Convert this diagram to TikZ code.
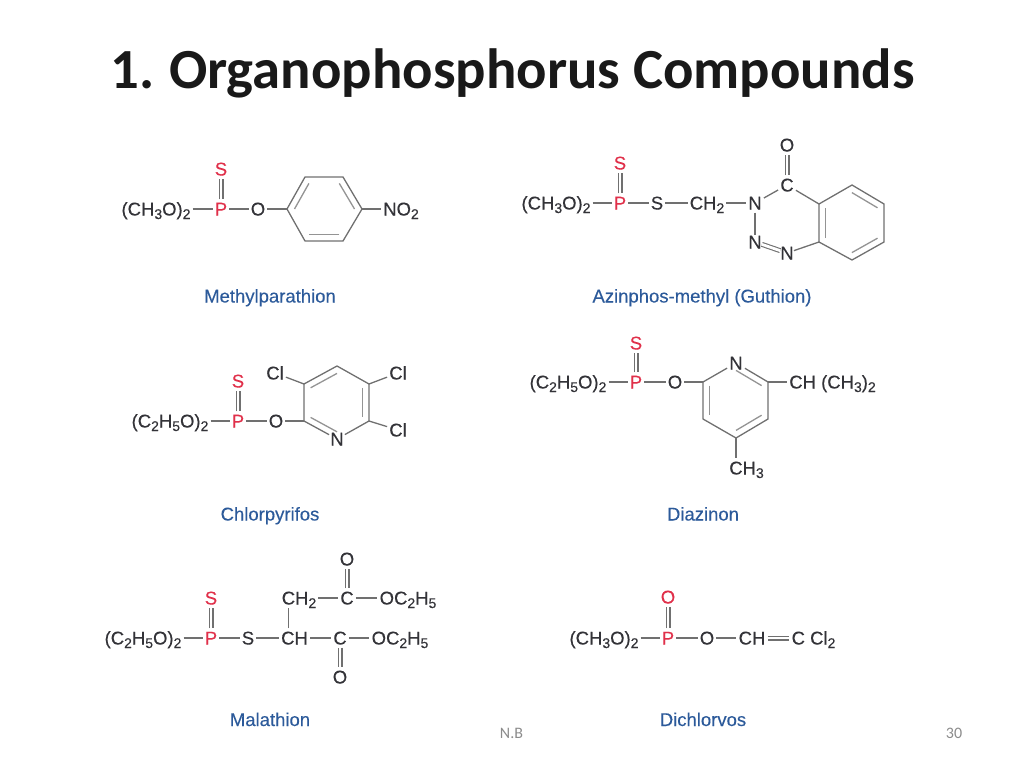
\documentclass[tikz,border=0pt]{standalone}
\usepackage{fontspec}
\setmainfont{Liberation Sans}[RawFeature={embolden=0.25}]
\newfontfamily\titlefont{Carlito}
\usetikzlibrary{calc}
\definecolor{inkgrey}{HTML}{333338}
\definecolor{bondgrey}{HTML}{707070}
\definecolor{atomred}{HTML}{E0304A}
\definecolor{nameblue}{HTML}{2C5A9A}
\definecolor{footgrey}{HTML}{8B8B8B}
\newcommand{\lowidx}[1]{\raisebox{-3.5pt}{\fontsize{14}{14}\selectfont #1}}
\tikzset{
	atom/.style={text=inkgrey,font=\fontsize{18.5}{20}\selectfont,inner xsep=2pt,inner ysep=3pt,text height=13pt,text depth=0pt},
	redatom/.style={atom,text=atomred},
	compound/.style={text=nameblue,font=\fontsize{18.5}{20}\selectfont,inner sep=0pt,text height=13pt,text depth=4pt},
	foot/.style={text=footgrey,font=\titlefont\fontsize{16}{18}\selectfont,inner sep=0pt},
	bond/.style={draw=bondgrey,line width=1.3pt},
	dblbond/.style={draw=bondgrey,line width=1.1pt,double=white,double distance=2.8pt},
	inring/.style={draw=bondgrey!75,line width=1.3pt}
}
\begin{document}
\begin{tikzpicture}[x=1pt,y=-1pt]
	\useasboundingbox (0,0) rectangle (1024,768);
	\node[inner sep=0pt,font=\titlefont\bfseries\fontsize{56.7}{60}\selectfont,text=black!90] (heading) at (512.5,73) {1.\kern-2.5pt{} Organophosphorus Compounds};

	% methylparathion
	\node[atom] (mpA) at (156,209) {(CH\lowidx{3}O)\lowidx{2}};
	\node[redatom] (mpP) at (221,209) {P};
	\node[redatom] (mpS) at (221,169) {S};
	\node[atom] (mpO) at (258,209) {O};
	\node[atom] (mpN) at (401,209) {NO\lowidx{2}};
	\node[compound] (mpName) at (270,298) {Methylparathion};
	\coordinate (mp1) at (287,209);
	\coordinate (mp2) at (305,177);
	\coordinate (mp3) at (343,177);
	\coordinate (mp4) at (362,209);
	\coordinate (mp5) at (343,241);
	\coordinate (mp6) at (305,241);
	\coordinate (mpC) at (324.5,209);
	\draw[bond] (mpA) -- (mpP);
	\draw[dblbond] (mpP) -- (mpS);
	\draw[bond] (mpP) -- (mpO);
	\draw[bond] (mpO) -- (mp1);
	\draw[bond] (mp4) -- (mpN);
	\draw[bond] (mp1) -- (mp2) -- (mp3) -- (mp4) -- (mp5) -- (mp6) -- cycle;
	\draw[inring] ($(mp1)!.2!(mpC)$) -- ($(mp2)!.2!(mpC)$);
	\draw[inring] ($(mp3)!.2!(mpC)$) -- ($(mp4)!.2!(mpC)$);
	\draw[inring] ($(mp5)!.2!(mpC)$) -- ($(mp6)!.2!(mpC)$);

	% azinphos-methyl
	\node[atom] (azA) at (556,203) {(CH\lowidx{3}O)\lowidx{2}};
	\node[redatom] (azP) at (620,203) {P};
	\node[redatom] (azS) at (620,163) {S};
	\node[atom] (azT) at (657,203) {S};
	\node[atom] (azM) at (707,203) {CH\lowidx{2}};
	\node[atom] (azN) at (755,203) {N};
	\node[atom] (azC) at (787,185) {C};
	\node[atom] (azO) at (787,145) {O};
	\node[atom,inner sep=0pt] (azNa) at (755,242) {N};
	\node[atom,inner sep=0pt] (azNb) at (787,253) {N};
	\node[compound] (azName) at (702,298) {Azinphos-methyl (Guthion)};
	\coordinate (az1) at (819,204);
	\coordinate (az2) at (852,185);
	\coordinate (az3) at (884,204);
	\coordinate (az4) at (884,242);
	\coordinate (az5) at (852,260);
	\coordinate (az6) at (819,242);
	\coordinate (azK) at (851.5,223);
	\draw[bond] (azA) -- (azP);
	\draw[dblbond] (azP) -- (azS);
	\draw[bond] (azP) -- (azT);
	\draw[bond] (azT) -- (azM);
	\draw[bond] (azM) -- (azN);
	\draw[bond] (azN) -- (azC);
	\draw[dblbond] (azC) -- (azO);
	\draw[bond] (azN) -- (azNa);
	\draw[dblbond] (azNa) -- (azNb);
	\draw[bond] (azNb) -- (az6);
	\draw[bond] (azC) -- (az1);
	\draw[bond] (az1) -- (az2) -- (az3) -- (az4) -- (az5) -- (az6) -- cycle;
	\draw[inring] ($(az2)!.2!(azK)$) -- ($(az3)!.2!(azK)$);
	\draw[inring] ($(az4)!.2!(azK)$) -- ($(az5)!.2!(azK)$);
	\draw[inring] ($(az6)!.2!(azK)$) -- ($(az1)!.2!(azK)$);

	% chlorpyrifos
	\node[atom] (clA) at (170,421) {(C\lowidx{2}H\lowidx{5}O)\lowidx{2}};
	\node[redatom] (clP) at (238,421) {P};
	\node[redatom] (clS) at (238,381) {S};
	\node[atom] (clO) at (276,421) {O};
	\node[atom,inner sep=1pt] (clN) at (337,439) {N};
	\node[atom] (clCa) at (275,373) {Cl};
	\node[atom] (clCb) at (398,373) {Cl};
	\node[atom] (clCc) at (398,430) {Cl};
	\node[compound] (clName) at (270,516) {Chlorpyrifos};
	\coordinate (cl1) at (304,421);
	\coordinate (cl2) at (304,384);
	\coordinate (cl3) at (337,366);
	\coordinate (cl4) at (369,384);
	\coordinate (cl5) at (369,421);
	\coordinate (clK) at (337,403);
	\draw[bond] (clA) -- (clP);
	\draw[dblbond] (clP) -- (clS);
	\draw[bond] (clP) -- (clO);
	\draw[bond] (clO) -- (cl1);
	\draw[bond] (clN) -- (cl1) -- (cl2) -- (cl3) -- (cl4) -- (cl5) -- (clN);
	\draw[bond] (cl2) -- (clCa);
	\draw[bond] (cl4) -- (clCb);
	\draw[bond] (cl5) -- (clCc);
	\draw[inring] ($(cl2)!.2!(clK)$) -- ($(cl3)!.2!(clK)$);
	\draw[inring] ($(cl4)!.2!(clK)$) -- ($(cl5)!.2!(clK)$);
	\draw[inring] ($(cl1)!.2!(clK)$) -- ($(clN)!.2!(clK)$);

	% diazinon
	\node[atom] (dzA) at (568,382) {(C\lowidx{2}H\lowidx{5}O)\lowidx{2}};
	\node[redatom] (dzP) at (636,382) {P};
	\node[redatom] (dzS) at (636,343) {S};
	\node[atom] (dzO) at (675,382) {O};
	\node[atom,inner sep=2pt] (dzN) at (736,363) {N};
	\node[atom] (dzI) at (832.5,382) {CH (CH\lowidx{3})\lowidx{2}};
	\node[atom] (dzM) at (746.5,468) {CH\lowidx{3}};
	\node[compound] (dzName) at (703,516) {Diazinon};
	\coordinate (dz1) at (703,382);
	\coordinate (dz2) at (703,419);
	\coordinate (dz3) at (736,438);
	\coordinate (dz4) at (768,419);
	\coordinate (dz5) at (768,382);
	\coordinate (dzK) at (736,400);
	\draw[bond] (dzA) -- (dzP);
	\draw[dblbond] (dzP) -- (dzS);
	\draw[bond] (dzP) -- (dzO);
	\draw[bond] (dzO) -- (dz1);
	\draw[bond] (dzN) -- (dz1) -- (dz2) -- (dz3) -- (dz4) -- (dz5) -- (dzN);
	\draw[bond] (dz5) -- (dzI);
	\draw[bond] (dz3) -- (dz3 |- dzM.north);
	\draw[inring] ($(dz1)!.2!(dzK)$) -- ($(dz2)!.2!(dzK)$);
	\draw[inring] ($(dz3)!.2!(dzK)$) -- ($(dz4)!.2!(dzK)$);
	\draw[inring] ($(dz5)!.2!(dzK)$) -- ($(dzN)!.2!(dzK)$);

	% malathion
	\node[atom] (mlA) at (143,638) {(C\lowidx{2}H\lowidx{5}O)\lowidx{2}};
	\node[redatom] (mlP) at (211,638) {P};
	\node[redatom] (mlS) at (211,598) {S};
	\node[atom] (mlT) at (248,638) {S};
	\node[atom] (mlH) at (294.5,638) {CH};
	\node[atom] (mlD) at (299,598) {CH\lowidx{2}};
	\node[atom] (mlU) at (347,598) {C};
	\node[atom] (mlV) at (347,559) {O};
	\node[atom] (mlE) at (408,598) {OC\lowidx{2}H\lowidx{5}};
	\node[atom] (mlL) at (340,638) {C};
	\node[atom] (mlW) at (340,677) {O};
	\node[atom] (mlF) at (400,638) {OC\lowidx{2}H\lowidx{5}};
	\node[compound] (mlName) at (270,721.5) {Malathion};
	\draw[bond] (mlA) -- (mlP);
	\draw[dblbond] (mlP) -- (mlS);
	\draw[bond] (mlP) -- (mlT);
	\draw[bond] (mlT) -- (mlH);
	\draw[bond] (mlH) -- (mlL);
	\draw[bond] (mlL) -- (mlF);
	\draw[dblbond] (mlL) -- (mlW);
	\draw[bond] ([xshift=-6pt]mlH.north) -- ([xshift=-6pt]mlH.north |- mlD.south);
	\draw[bond] (mlD) -- (mlU);
	\draw[bond] (mlU) -- (mlE);
	\draw[dblbond] (mlU) -- (mlV);

	% dichlorvos
	\node[atom] (dcA) at (604,638) {(CH\lowidx{3}O)\lowidx{2}};
	\node[redatom] (dcP) at (668,638) {P};
	\node[redatom] (dcR) at (668,597) {O};
	\node[atom] (dcO) at (707,638) {O};
	\node[atom] (dcH) at (752,638) {CH};
	\node[atom] (dcC) at (813.5,638) {C Cl\lowidx{2}};
	\node[compound] (dcName) at (703,721.5) {Dichlorvos};
	\draw[bond] (dcA) -- (dcP);
	\draw[dblbond] (dcP) -- (dcR);
	\draw[bond] (dcP) -- (dcO);
	\draw[bond] (dcO) -- (dcH);
	\draw[dblbond] (dcH) -- (dcC);

	\node[foot] (author) at (511.5,733) {N.B};
	\node[foot] (pagenum) at (954,733) {30};
\end{tikzpicture}
\end{document}
